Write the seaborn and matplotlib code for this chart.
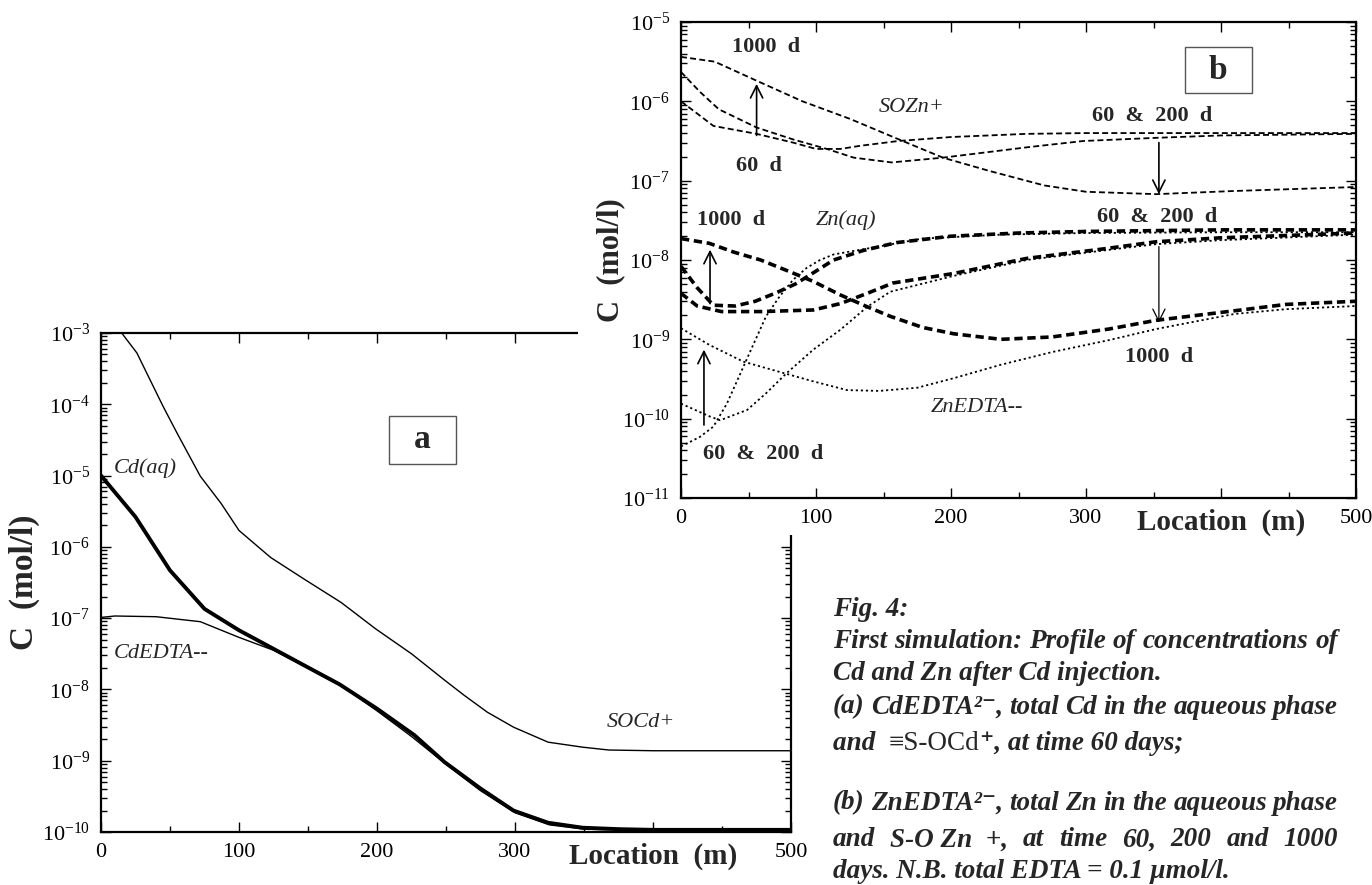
import numpy as np
import matplotlib
matplotlib.use('Agg')
import matplotlib.pyplot as plt
import seaborn as sns
from matplotlib.patches import Rectangle
from matplotlib.ticker import NullFormatter, FuncFormatter, MultipleLocator, FixedLocator

# ---- panel a : Cd at 60 days (y values as log10 mol/l)
x_socd = [15, 26, 45, 55, 72, 87, 100, 123, 147, 174, 199, 225, 249, 263, 280, 299, 324, 349, 368, 400, 450, 500]
socd_log = [-3.0, -3.28, -4.03, -4.40, -5.01, -5.39, -5.77, -6.15, -6.45, -6.78, -7.15, -7.50, -7.87, -8.08,
            -8.32, -8.53, -8.74, -8.81, -8.85, -8.86, -8.86, -8.86]
x_cdaq = [0, 25, 50, 75, 100, 124, 147, 173, 200, 227, 249, 275, 299, 324, 349, 375, 400, 450, 500]
cdaq_log = [-5.0, -5.58, -6.33, -6.87, -7.17, -7.42, -7.66, -7.93, -8.27, -8.64, -9.02, -9.39, -9.70, -9.87,
            -9.94, -9.96, -9.97, -9.97, -9.97]
x_cdedta = [0, 10, 40, 72, 100, 125, 150, 175, 200, 225, 250, 275, 300, 325, 350, 400, 500]
cdedta_log = [-6.99, -6.97, -6.98, -7.05, -7.27, -7.45, -7.70, -7.96, -8.30, -8.66, -9.05, -9.42, -9.73, -9.90,
              -9.96, -9.98, -9.98]

# ---- panel b : Zn at 60, 200 and 1000 days
x_sozn_1000 = [0, 25, 56, 90, 125, 160, 194, 229, 269, 300, 352, 410, 500]
sozn_1000_log = [-5.44, -5.50, -5.74, -6.00, -6.22, -6.47, -6.71, -6.88, -7.06, -7.14, -7.17, -7.13, -7.08]
x_sozn_60 = [0, 14, 24, 56, 83, 100, 118, 133, 161, 200, 256, 300, 352, 400, 500]
sozn_60_log = [-6.0, -6.18, -6.31, -6.41, -6.52, -6.60, -6.60, -6.56, -6.50, -6.45, -6.41, -6.40, -6.40, -6.40, -6.40]
x_sozn_200 = [0, 14, 28, 56, 83, 108, 128, 156, 194, 256, 298, 352, 400, 500]
sozn_200_log = [-5.63, -5.88, -6.10, -6.33, -6.48, -6.60, -6.71, -6.77, -6.71, -6.58, -6.50, -6.46, -6.43, -6.41]

x_znaq_1000 = [0, 21, 39, 59, 78, 98, 118, 138, 155, 179, 202, 237, 275, 317, 352, 410, 448, 500]
znaq_1000_log = [-7.73, -7.79, -7.90, -8.00, -8.13, -8.27, -8.44, -8.59, -8.71, -8.85, -8.93, -9.00, -8.97,
                 -8.87, -8.76, -8.64, -8.56, -8.52]
x_znaq_p = [0, 12, 24, 40, 55, 71, 85, 100, 113, 135, 160, 200, 250, 300, 350, 400, 500]
znaq_p_log = [-8.08, -8.35, -8.57, -8.58, -8.52, -8.41, -8.30, -8.14, -8.00, -7.88, -7.78, -7.70, -7.66,
              -7.64, -7.63, -7.62, -7.62]
x_znaq_q = [0, 12, 30, 60, 98, 118, 138, 157, 202, 256, 313, 352, 400, 500]
znaq_q_log = [-8.42, -8.58, -8.65, -8.65, -8.63, -8.55, -8.42, -8.29, -8.17, -7.98, -7.86, -7.77, -7.72, -7.66]

x_znedta_1000 = [0, 21, 46, 77, 98, 123, 147, 175, 202, 237, 275, 317, 352, 410, 448, 500]
znedta_1000_log = [-8.86, -9.07, -9.28, -9.43, -9.53, -9.64, -9.65, -9.61, -9.49, -9.32, -9.16, -9.01, -8.87,
                   -8.68, -8.62, -8.58]
x_znedta_a = [0, 14, 24, 34, 44, 54, 63, 73, 83, 93, 103, 113, 140, 179, 237, 300, 400, 500]
znedta_a_log = [-10.35, -10.23, -10.10, -9.81, -9.43, -9.05, -8.71, -8.46, -8.25, -8.10, -8.00, -7.93, -7.85,
                -7.73, -7.68, -7.66, -7.65, -7.65]
x_znedta_b = [0, 21, 29, 49, 63, 78, 98, 118, 138, 155, 202, 256, 313, 352, 400, 500]
znedta_b_log = [-9.81, -9.97, -10.02, -9.89, -9.68, -9.43, -9.13, -8.88, -8.59, -8.40, -8.20, -8.00, -7.88,
                -7.80, -7.75, -7.68]

xticks = [0, 100, 200, 300, 400, 500]
xtick_labels = ['0', '100', '200', '300', '', '500']

# caption lines; words split on plain spaces, \u00a0 keeps a group together
caption = [
    'Fig. 4:',
    'First simulation: Profile of concentrations of',
    'Cd and Zn after Cd injection.',
    '(a) CdEDTA\u00b2\u207b, total Cd in the aqueous phase',
    None,  # mixed-style line, drawn separately
    '(b) ZnEDTA\u00b2\u207b, total Zn in the aqueous phase',
    'and S-O\u00a0Zn\u00a0\u00a0+, at time 60, 200 and 1000',
    'days. N.B. total EDTA = 0.1 \u00b5mol/l.',
]
caption_justified = [False, True, False, True, False, True, True, False]
mixed_line = [('and  ', True), ('\u2261S-OCd', False), ('\u207a, at time 60 days;', True)]

sns.set_theme(style='ticks')
plt.rcParams['font.family'] = ['Liberation Serif', 'DejaVu Serif']
plt.rcParams['mathtext.fontset'] = 'custom'
plt.rcParams['mathtext.rm'] = 'Liberation Serif'
plt.rcParams['mathtext.it'] = 'Liberation Serif:italic'
plt.rcParams['mathtext.bf'] = 'Liberation Serif:bold'

W, H = 1372, 885
fig = plt.figure(figsize=(13.72, 8.85), dpi=100)
fig.patch.set_facecolor('white')

ax_a = fig.add_axes([101 / W, 1 - 832 / H, 690 / W, 499 / H])
ax_b = fig.add_axes([681 / W, 1 - 498 / H, 675 / W, 476 / H])
ax_a.set_zorder(0)
ax_b.set_zorder(2)
# white sheet that panel b sits on, hiding the top right of panel a
fig.add_artist(Rectangle((578 / W, 1 - 535 / H), 1 - 578 / W, 535 / H, transform=fig.transFigure,
                         facecolor='white', edgecolor='none', zorder=1))


def pw(v):
    return 10 ** np.array(v)


def style_axes(ax, lo, hi):
    ax.set_yscale('log')
    ax.set_xlim(0, 500)
    ax.set_ylim(10.0 ** lo, 10.0 ** hi)
    ax.set_facecolor('white')
    decades = np.arange(lo, hi + 1)
    ax.yaxis.set_major_locator(FixedLocator(10.0 ** decades))
    minors = [m * 10.0 ** d for d in decades[:-1] for m in range(2, 10)]
    ax.yaxis.set_minor_locator(FixedLocator(minors))
    ax.yaxis.set_minor_formatter(NullFormatter())
    ax.yaxis.set_major_formatter(FuncFormatter(lambda v, p: r'$\mathregular{10^{%d}}$' % round(np.log10(v))))
    ax.xaxis.set_major_locator(FixedLocator(xticks))
    ax.set_xticklabels(xtick_labels)
    ax.xaxis.set_minor_locator(MultipleLocator(50))
    ax.tick_params(which='both', direction='in', top=True, right=True, width=1, colors='black')
    ax.tick_params(which='major', length=7, labelsize=16, pad=8)
    ax.tick_params(which='minor', length=4)
    for s in ax.spines.values():
        s.set_linewidth(1.6)
        s.set_color('black')
    ax.set_xlabel('Location  (m)', fontsize=21, fontweight='bold')
    ax.xaxis.set_label_coords(0.8, -0.022)


# ---- panel a
sns.lineplot(x=x_socd, y=pw(socd_log), ax=ax_a, color='black', lw=1.0)
sns.lineplot(x=x_cdaq, y=pw(cdaq_log), ax=ax_a, color='black', lw=2.8)
sns.lineplot(x=x_cdedta, y=pw(cdedta_log), ax=ax_a, color='black', lw=1.0)
style_axes(ax_a, -10, -3)
ax_a.set_ylabel('C  (mol/l)', fontsize=24, fontweight='bold')
ax_a.yaxis.set_label_coords(-0.088, 0.5)

ax_a.text(9, 10 ** -4.89, 'Cd(aq)', fontsize=16, style='italic', va='center')
ax_a.text(9, 10 ** -7.49, 'CdEDTA--', fontsize=16, style='italic', va='center')
ax_a.text(391, 10 ** -8.46, 'SOCd+', fontsize=16, style='italic', va='center', ha='center')
ax_a.add_patch(Rectangle((0.417, 0.737), 0.098, 0.097, transform=ax_a.transAxes, fill=False,
                         edgecolor='#555555', lw=1.0))
ax_a.text(0.466, 0.786, 'a', transform=ax_a.transAxes, fontsize=24, fontweight='bold',
          ha='center', va='center')

# ---- panel b
sozn_style = dict(color='black', lw=1.3, linestyle=(0, (3.3, 1.8)))
sns.lineplot(x=x_sozn_1000, y=pw(sozn_1000_log), ax=ax_b, **sozn_style)
sns.lineplot(x=x_sozn_60, y=pw(sozn_60_log), ax=ax_b, **sozn_style)
sns.lineplot(x=x_sozn_200, y=pw(sozn_200_log), ax=ax_b, **sozn_style)

znaq_style = dict(color='black', lw=2.6, linestyle=(0, (2.3, 1.3)))
sns.lineplot(x=x_znaq_1000, y=pw(znaq_1000_log), ax=ax_b, **znaq_style)
sns.lineplot(x=x_znaq_p, y=pw(znaq_p_log), ax=ax_b, **znaq_style)
sns.lineplot(x=x_znaq_q, y=pw(znaq_q_log), ax=ax_b, **znaq_style)

znedta_style = dict(color='black', lw=1.3, linestyle=(0, (1.2, 1.6)))
sns.lineplot(x=x_znedta_1000, y=pw(znedta_1000_log), ax=ax_b, **znedta_style)
sns.lineplot(x=x_znedta_a, y=pw(znedta_a_log), ax=ax_b, **znedta_style)
sns.lineplot(x=x_znedta_b, y=pw(znedta_b_log), ax=ax_b, **znedta_style)
style_axes(ax_b, -11, -5)
ax_b.set_ylabel('C  (mol/l)', fontsize=22, fontweight='bold')
ax_b.yaxis.set_label_coords(-0.083, 0.5)

bold = dict(fontsize=16, fontweight='bold', ha='center', va='center')
ital = dict(fontsize=16, style='italic', ha='center', va='center')
ax_b.text(63, 10 ** -5.31, '1000  d', **bold)
ax_b.text(171, 10 ** -6.08, 'SOZn+', **ital)
ax_b.text(349, 10 ** -6.19, '60  &  200  d', **bold)
ax_b.text(58, 10 ** -6.81, '60  d', **bold)
ax_b.text(37, 10 ** -7.50, '1000  d', **bold)
ax_b.text(122, 10 ** -7.50, 'Zn(aq)', **ital)
ax_b.text(353, 10 ** -7.46, '60  &  200  d', **bold)
ax_b.text(354, 10 ** -9.22, '1000  d', **bold)
ax_b.text(219, 10 ** -9.86, 'ZnEDTA--', **ital)
ax_b.text(61, 10 ** -10.44, '60  &  200  d', **bold)
ax_b.add_patch(Rectangle((0.746, 0.85), 0.10, 0.098, transform=ax_b.transAxes, fill=False,
                         edgecolor='#555555', lw=1.0))
ax_b.text(0.796, 0.899, 'b', transform=ax_b.transAxes, fontsize=24, fontweight='bold',
          ha='center', va='center')

arrow = dict(arrowstyle='->', lw=1.2, color='black', mutation_scale=22, shrinkA=0, shrinkB=0)
ax_b.annotate('', xy=(56, 10 ** -5.78), xytext=(56, 10 ** -6.43), arrowprops=arrow)
ax_b.annotate('', xy=(354, 10 ** -7.17), xytext=(354, 10 ** -6.52), arrowprops=arrow)
ax_b.annotate('', xy=(21.5, 10 ** -7.87), xytext=(21.5, 10 ** -8.55), arrowprops=arrow)
ax_b.annotate('', xy=(354, 10 ** -8.79), xytext=(354, 10 ** -7.83), arrowprops=dict(arrow, lw=0.9))
ax_b.annotate('', xy=(17, 10 ** -9.13), xytext=(17, 10 ** -10.08), arrowprops=arrow)

# ---- caption (justified lines like the printed page)
cap_font = dict(fontsize=19.5, fontweight='bold', style='italic', va='center', ha='left')
cap_plain = dict(fontsize=19.5, fontweight='normal', style='normal', va='center', ha='left')
cap_x0, cap_x1 = 833, 1338
cap_y = [610, 641, 673, 707, 743, 803, 840, 872]
renderer = fig.canvas.get_renderer()
for line, yy, just in zip(caption, cap_y, caption_justified):
    y = 1 - yy / H
    if line is None:
        x = cap_x0
        for part, is_bold in mixed_line:
            t = fig.text(x / W, y, part, **(cap_font if is_bold else cap_plain))
            x += t.get_window_extent(renderer).width
        continue
    if not just:
        fig.text(cap_x0 / W, y, line, **cap_font)
        continue
    words = [w for w in line.split(' ') if w]
    arts = [fig.text(0, y, w, **cap_font) for w in words]
    widths = [a.get_window_extent(renderer).width for a in arts]
    gap = (cap_x1 - cap_x0 - sum(widths)) / (len(words) - 1)
    x = cap_x0
    for a, w in zip(arts, widths):
        a.set_x(x / W)
        x += w + gap

fig.savefig('out.png', dpi=100, facecolor='white')
